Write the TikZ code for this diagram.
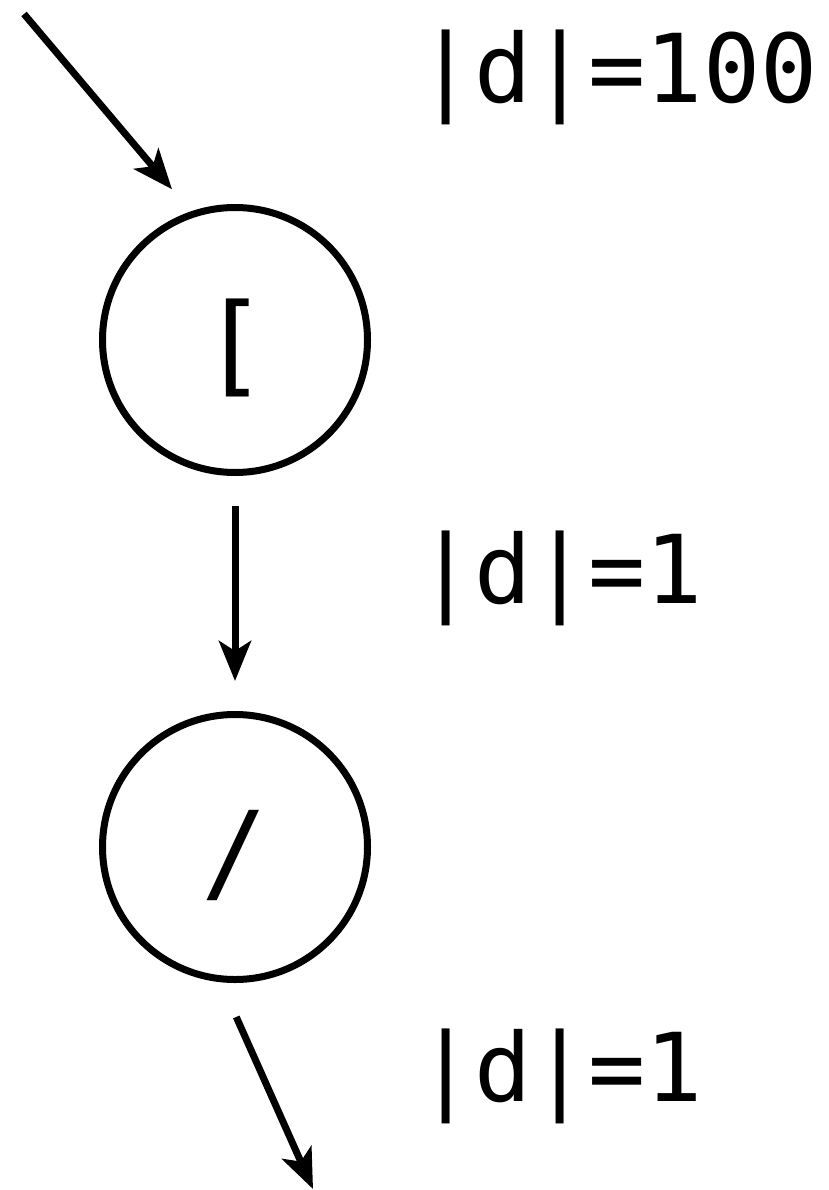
\documentclass[tikz,border=0pt]{standalone}
\usepackage{fontspec}
\newfontfamily\monofont{DejaVu Sans Mono}
\usetikzlibrary{arrows.meta}
\tikzset{
  state/.style={circle, draw, line width=7pt, minimum size=265pt, inner sep=0pt},
  op/.style={inner sep=0pt, yshift=-8pt, font=\monofont\fontsize{110}{120}\selectfont},
  flow/.style={line width=7pt, -{Stealth[length=40pt,width=32pt,inset=10pt]}},
  size/.style={anchor=base west, inner sep=0pt, font=\monofont\fontsize{95}{100}\selectfont}
}
\begin{document}
\begin{tikzpicture}[x=1pt,y=-1pt]
  \useasboundingbox (0,0) rectangle (828,1190);
  % operator nodes, the symbol set a little below the centre
  \node[state, label={[op]center:[}] (open) at (235,340) {};
  \node[state, label={[op]center:/}] (sep) at (235,847) {};
  % loose ends of the chain
  \coordinate (in) at (24,14);
  \coordinate (out) at (313,1189);
  % connectors
  \draw[flow, shorten >=29pt] (in) -- (open.109);
  \draw[flow, shorten <=30pt, shorten >=30pt] (open) -- (sep);
  \draw[flow, shorten <=38pt] (sep.264) -- (out);
  % sizes on each connector
  \node[size] (l1) at (417,103) {|d|=100};
  \node[size] (l2) at (417,603) {|d|=1};
  \node[size] (l3) at (417,1101) {|d|=1};
\end{tikzpicture}
\end{document}
